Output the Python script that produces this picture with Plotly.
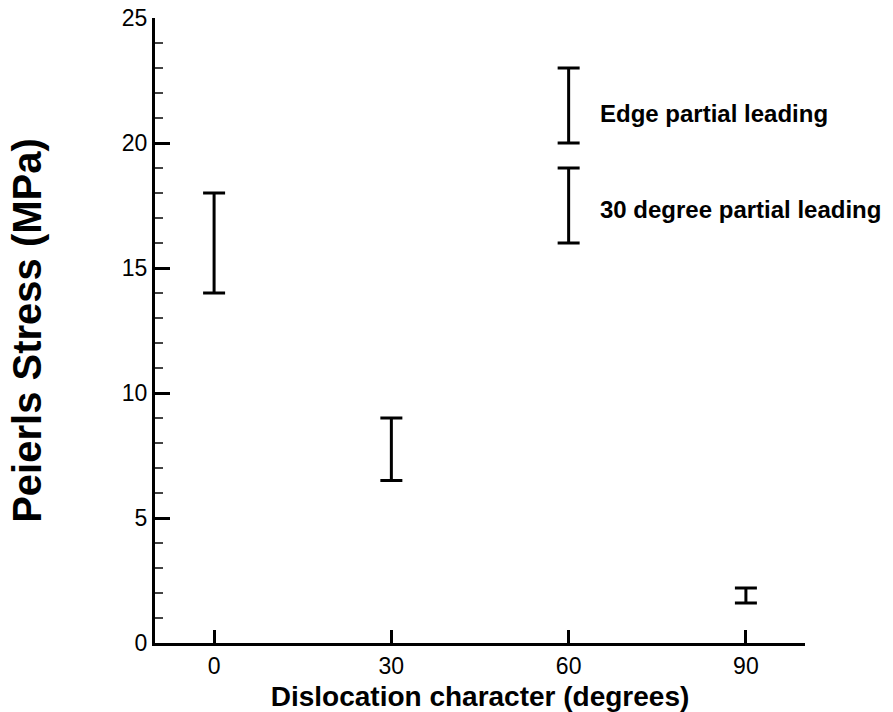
import plotly.graph_objects as go

# Peierls stress ranges (MPa) by dislocation character (degrees)
characters = [0, 30, 90]
stress_low = [14.0, 6.5, 1.6]
stress_high = [18.0, 9.0, 2.2]

# 60-degree dislocation: two leading-partial cases
mixed_character = [60, 60]
mixed_low = [20.0, 16.0]
mixed_high = [23.0, 19.0]
mixed_labels = ["Edge partial leading", "30 degree partial leading"]

x_ticks = [0, 30, 60, 90]
y_ticks = [0, 5, 10, 15, 20, 25]

FONT = "Arial, 'Liberation Sans', sans-serif"


def bar_trace(xs, lows, highs):
    mids = [(lo + hi) / 2 for lo, hi in zip(lows, highs)]
    return go.Scatter(
        x=xs,
        y=mids,
        mode="markers",
        marker=dict(size=0.1, color="black", opacity=0),
        error_y=dict(
            type="data",
            symmetric=False,
            array=[hi - m for hi, m in zip(highs, mids)],
            arrayminus=[m - lo for lo, m in zip(lows, mids)],
            color="black",
            thickness=3,
            width=11,
        ),
        showlegend=False,
        hoverinfo="skip",
    )


fig = go.Figure()
fig.add_trace(bar_trace(characters, stress_low, stress_high))
fig.add_trace(bar_trace(mixed_character, mixed_low, mixed_high))

label_y = [21.2, 17.35]
for text, yv in zip(mixed_labels, label_y):
    fig.add_annotation(
        x=65, y=yv, xref="x", yref="y", text=f"<b>{text}</b>",
        showarrow=False, xanchor="left", yanchor="middle",
        font=dict(family=FONT, size=24, color="black"),
    )

fig.update_layout(
    width=893,
    height=712,
    margin=dict(l=155, r=88, t=18, b=69),
    paper_bgcolor="white",
    plot_bgcolor="white",
    font=dict(family=FONT, color="black"),
)

fig.update_xaxes(
    range=[-10, 100],
    tickvals=x_ticks,
    ticks="inside",
    ticklen=13,
    tickwidth=3,
    tickcolor="black",
    showline=True,
    linewidth=3,
    linecolor="black",
    showgrid=False,
    zeroline=False,
    automargin=False,
    tickfont=dict(family=FONT, size=23),
    title=dict(text="<b>Dislocation character (degrees)</b>",
               font=dict(family=FONT, size=28), standoff=10),
)

fig.update_yaxes(
    range=[0, 25],
    tickvals=y_ticks,
    ticks="inside",
    ticklen=15,
    tickwidth=3,
    tickcolor="black",
    showline=True,
    linewidth=3,
    linecolor="black",
    showgrid=False,
    zeroline=False,
    automargin=False,
    tickfont=dict(family=FONT, size=23),
    minor=dict(dtick=1, ticks="inside", ticklen=8, tickwidth=1.5,
               tickcolor="#444444", showgrid=False),
    title=dict(text="<b>Peierls Stress (MPa)</b>",
               font=dict(family=FONT, size=40), standoff=68),
)

fig.write_html("out.html")
